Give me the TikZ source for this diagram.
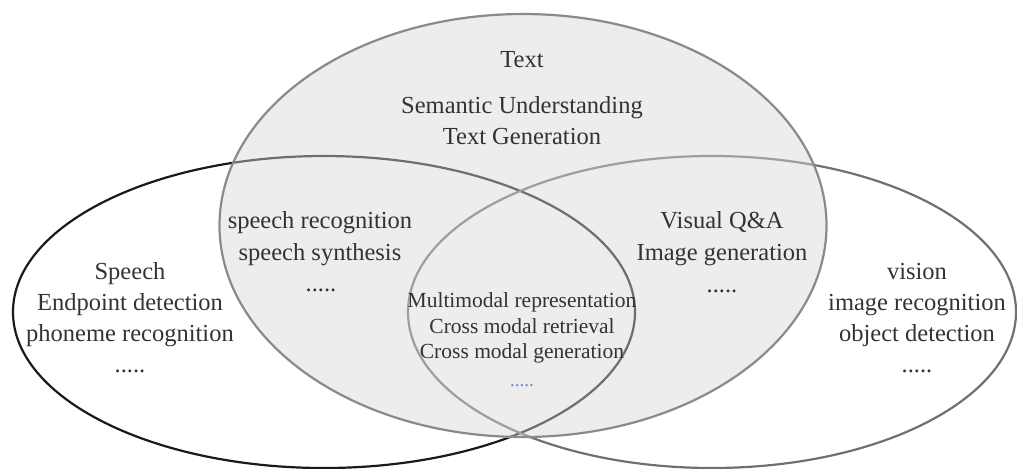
\documentclass[tikz,border=0pt]{standalone}
\usepackage{fontspec}
\setmainfont{Liberation Serif}
\definecolor{ink}{HTML}{333333}
\definecolor{speechstroke}{HTML}{1A1A1A}
\definecolor{visionstroke}{HTML}{707070}
\definecolor{textstroke}{HTML}{8A8A8A}
\definecolor{textfill}{HTML}{D6D6D6}
\definecolor{dotblue}{HTML}{6F82D8}
\tikzset{
  ring/.style={line width=1.1pt},
  speechring/.style={ring, draw=speechstroke},
  visionring/.style={ring, draw=visionstroke},
  textring/.style={ring, draw=textstroke, fill=textfill, fill opacity=0.45, draw opacity=1},
  label/.style={anchor=base, inner sep=0pt, text=ink, font=\fontsize{12.25}{14}\selectfont},
  smalllabel/.style={label, font=\fontsize{10.75}{12}\selectfont},
  bluedots/.style={anchor=base, inner sep=0pt, text=dotblue, font=\fontsize{9.5}{11}\selectfont},
}
\begin{document}
\begin{tikzpicture}[x=0.5pt,y=-0.5pt]
\useasboundingbox (0,0) rectangle (1017,468);

% the three modality sets
\draw[speechring] (324,312) ellipse [x radius=311, y radius=156];
\draw[visionring] (712,312) ellipse [x radius=304, y radius=156];
\draw[textring] (523,225.5) ellipse [x radius=303.5, y radius=211.5];

% Text
\node[label] (t1) at (522,67) {Text};
\node[label] (t2) at (522,113) {Semantic Understanding};
\node[label] (t3) at (522,144) {Text Generation};

% Speech and Text
\node[label] (st1) at (320,228) {speech recognition};
\node[label] (st2) at (320,260) {speech synthesis};
\node[label] (st3) at (321,291) {.....};

% Vision and Text
\node[label] (vt1) at (722,228) {Visual Q\&A};
\node[label] (vt2) at (722,260) {Image generation};
\node[label] (vt3) at (722,292) {.....};

% Speech
\node[label] (s1) at (130,279) {Speech};
\node[label] (s2) at (130,310) {Endpoint detection};
\node[label] (s3) at (130,341) {phoneme recognition};
\node[label] (s4) at (130,372) {.....};

% Vision
\node[label] (v1) at (917,279) {vision};
\node[label] (v2) at (917,310) {image recognition};
\node[label] (v3) at (917,341) {object detection};
\node[label] (v4) at (917,372) {.....};

% all three modalities
\node[smalllabel] (m1) at (522,307) {Multimodal representation};
\node[smalllabel] (m2) at (522,333) {Cross modal retrieval};
\node[smalllabel] (m3) at (522,358) {Cross modal generation};
\node[bluedots] (m4) at (522,386) {.....};
\end{tikzpicture}
\end{document}
